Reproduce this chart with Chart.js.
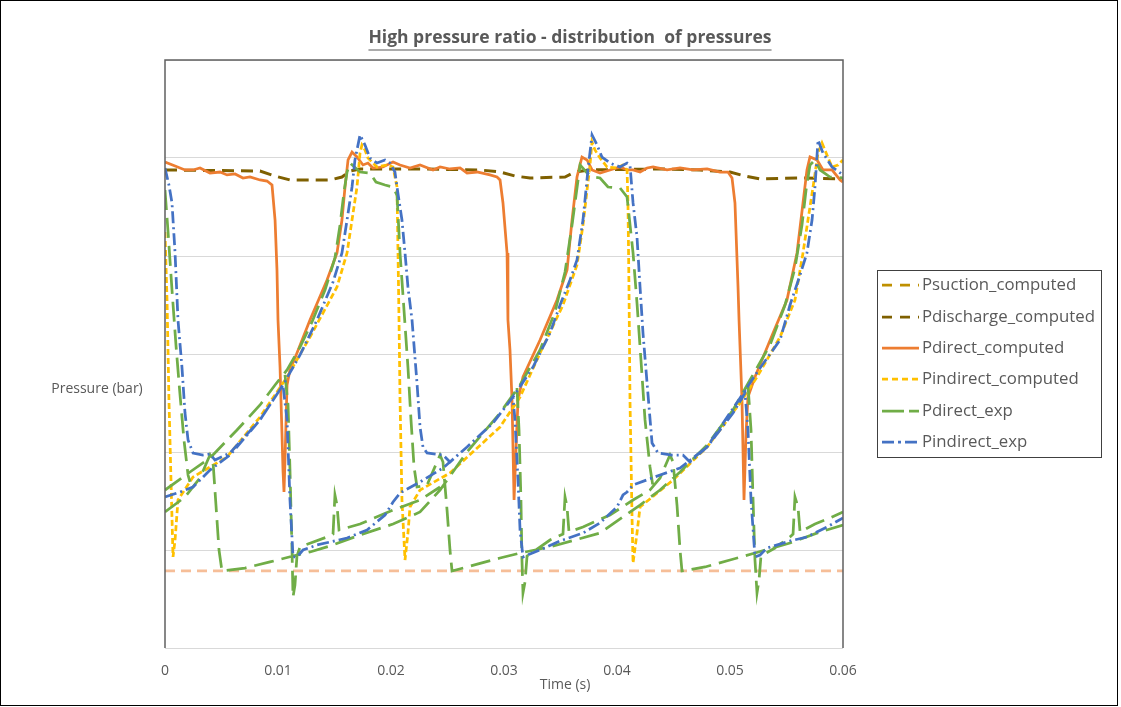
<!DOCTYPE html>
<html>
<head>
<meta charset="utf-8">
<title>High pressure ratio - distribution of pressures</title>
<script src="https://cdn.jsdelivr.net/npm/chart.js@4.4.1/dist/chart.umd.min.js"></script>
<style>
  html, body { margin: 0; padding: 0; background: #fff; }
  canvas { display: block; }
</style>
</head>
<body>
<canvas id="graficaPresiones" width="1121" height="707"></canvas>
<script>
// time in ms (axis shows seconds), pressure in bar
const xTickLabels = ['0', '0.01', '0.02', '0.03', '0.04', '0.05', '0.06'];
const seriesNames = ['Psuction_computed', 'Pdischarge_computed', 'Pdirect_computed', 'Pindirect_computed', 'Pdirect_exp', 'Pindirect_exp'];

const tSuction = [0, 60];
const pSuction = [7.86, 7.86];

const tDischarge = [0, 8.41, 9.73, 11.06, 14.60, 15.66, 16.37, 17.26, 22.57, 27.88, 29.65, 30.97, 32.30, 35.40, 36.28, 37.61, 43.81, 47.35, 50.00, 51.33, 52.65, 56.19, 60.00];
const pDischarge = [48.78, 48.67, 48.16, 47.76, 47.76, 48.06, 48.67, 48.88, 48.88, 48.78, 48.57, 48.16, 47.96, 48.06, 48.57, 48.78, 48.88, 48.78, 48.57, 48.16, 47.86, 47.96, 47.86];

const tDirectComp = [0, 0.89, 1.77, 2.48, 3.10, 3.98, 4.87, 5.49, 6.20, 6.90, 7.52, 8.41, 9.03, 9.47, 9.74, 9.91, 10.00, 10.18, 10.35, 10.44,
  10.53, 10.62, 10.80, 11.06, 11.68, 12.83, 14.34, 15.22, 15.66, 15.93, 16.20, 16.55, 16.99, 17.52, 17.96, 18.41, 19.29, 20.18, 20.80, 21.68,
  22.57, 23.72, 24.34, 25.22, 26.11, 26.73, 27.61, 28.76, 29.38, 29.65, 29.91, 30.27, 30.35, 30.53, 30.71, 30.89, 31.06, 31.24, 31.68, 33.19,
  34.69, 35.58, 36.02, 36.46, 36.90, 37.35, 37.79, 38.50, 39.38, 40.27, 40.89, 41.42, 42.04, 42.66, 43.19, 44.43, 45.58, 46.73, 47.97, 49.12,
  49.82, 50.18, 50.44, 50.71, 50.80, 51.06, 51.24, 51.42, 51.59, 52.21, 53.81, 55.04, 55.93, 56.46, 56.81, 57.08, 57.70, 58.23, 59.03, 59.74, 60.00];
const pDirectComp = [49.59, 49.18, 48.78, 48.78, 48.98, 48.47, 48.57, 48.27, 48.37, 47.96, 48.06, 47.76, 47.65, 47.24, 43.67, 38.57, 33.47, 28.67, 21.94, 18.16,
  15.92, 19.18, 26.84, 28.37, 30.10, 33.47, 37.55, 40.31, 43.67, 47.04, 49.80, 50.61, 50.10, 49.29, 49.49, 48.98, 49.08, 49.59, 49.29, 48.98,
  49.29, 48.78, 49.08, 48.88, 48.98, 48.47, 48.57, 48.27, 48.06, 47.76, 45.41, 40.31, 33.47, 30.41, 25.31, 15.10, 20.20, 25.31, 27.65, 31.43,
  35.51, 38.57, 43.67, 48.06, 50.10, 49.80, 48.78, 48.47, 48.78, 49.08, 48.78, 48.78, 48.57, 48.98, 49.08, 48.78, 48.98, 48.78, 48.88, 48.57,
  48.57, 47.96, 45.41, 36.84, 33.47, 25.31, 15.10, 21.94, 25.61, 27.65, 32.14, 35.51, 40.31, 45.41, 48.78, 50.10, 49.80, 48.78, 48.78, 47.76, 47.55];

const tIndirectComp = [0, 0.18, 0.35, 0.53, 0.71, 0.89, 1.15, 2.48, 5.49, 8.41, 10.80, 12.83, 14.60, 15.22, 16.11, 16.55, 16.99, 17.26, 17.43, 17.70,
  17.96, 18.76, 19.65, 20.18, 20.53, 20.62, 20.71, 20.80, 20.97, 21.24, 21.50, 21.68, 22.57, 25.22, 27.43, 29.65, 31.42, 33.19, 35.22, 36.46,
  36.99, 37.35, 37.61, 37.79, 38.05, 38.50, 39.12, 40.00, 40.53, 40.89, 40.97, 41.06, 41.15, 41.33, 41.42, 41.77, 42.04, 44.96, 47.97, 50.89,
  52.39, 54.43, 55.75, 56.46, 56.90, 57.35, 57.79, 58.14, 58.58, 59.03, 59.56, 60.00];
const pIndirectComp = [42.45, 35.51, 25.31, 17.14, 9.29, 11.02, 15.10, 17.45, 19.49, 23.57, 27.65, 31.73, 35.51, 36.84, 40.31, 43.67, 47.04, 50.51, 51.33, 50.82,
  50.00, 49.08, 49.29, 49.08, 47.04, 40.31, 33.47, 25.31, 15.10, 8.98, 11.73, 14.39, 16.12, 17.86, 20.20, 22.55, 25.61, 30.10, 35.00, 39.08,
  43.16, 46.73, 49.29, 51.63, 50.82, 50.00, 49.08, 48.98, 49.29, 48.78, 45.41, 36.84, 25.31, 13.37, 8.67, 11.73, 14.39, 17.14, 20.51, 25.00,
  27.65, 31.73, 35.51, 40.31, 43.67, 47.04, 50.51, 51.53, 50.31, 49.08, 49.29, 49.80];

// experimental traces overlap themselves, so they are kept as separate strokes
const tDirectExp = [
  [0, 0.27, 0.62, 0.97, 1.33, 1.68, 2.04, 2.21],
  [0, 1.77, 3.10, 3.98, 4.25, 4.51, 4.78, 5.04, 7.08, 9.29, 11.33, 12.83, 14.60, 17.26, 20.18, 22.57, 24.34, 26.73, 29.65, 31.42,
   33.19, 34.51, 35.40, 36.02, 36.46, 36.73, 37.35, 37.88, 38.50, 39.20, 40.27, 40.89, 41.42, 41.77, 42.12, 42.48, 42.92, 43.19],
  [0, 2.21, 3.98, 6.37, 8.41, 9.74, 10.80, 11.95, 13.01, 14.16, 15.04, 15.49, 15.84, 16.11, 16.37, 17.26, 18.14, 18.67, 19.47, 20.18,
   20.53, 20.80, 21.15, 21.50, 21.77, 22.04, 22.30, 23.19, 24.34, 24.60, 24.96, 25.22, 25.40, 26.73, 29.65, 31.42, 34.07, 38.50, 42.04, 43.81,
   45.58, 47.97, 50.27, 51.77, 53.54, 54.87, 55.75, 56.37, 56.73, 57.08, 57.52, 57.97, 58.85, 60.00],
  [10.62, 10.89, 11.06, 11.24, 11.33, 11.50, 11.68, 11.95, 14.34, 14.87, 15.04, 15.22, 15.40, 17.26, 20.18, 22.57, 24.34],
  [31.15, 31.33, 31.50, 31.59, 31.68, 31.86, 32.04, 34.07, 35.22, 35.40, 35.58, 35.75, 36.99, 39.38, 41.42, 42.92, 43.81, 44.69, 44.96, 45.31,
   45.58, 45.75, 47.79, 50.00, 52.21, 55.31, 57.97, 60.00],
  [51.59, 51.86, 52.04, 52.21, 52.39, 52.57, 52.74, 53.98, 55.31, 55.58, 55.75, 56.02, 56.20, 57.52, 58.85, 60.00]
];
const pDirectExp = [
  [46.73, 42.45, 36.53, 30.92, 25.82, 21.22, 17.65, 16.94],
  [13.88, 15.41, 17.35, 19.69, 18.98, 14.59, 10.00, 7.86, 8.16, 8.78, 9.39, 9.80, 10.41, 11.53, 12.65, 13.88, 16.12, 20.00, 23.98, 26.84,
   30.41, 34.29, 38.37, 43.16, 46.94, 49.29, 48.47, 48.06, 47.96, 47.04, 46.94, 46.02, 40.31, 35.20, 29.39, 23.27, 18.47, 16.43],
  [16.12, 17.96, 19.39, 22.24, 24.80, 26.84, 28.37, 30.71, 33.27, 36.53, 39.80, 43.16, 46.53, 48.57, 49.49, 48.57, 48.47, 47.55, 47.24, 47.04,
   46.22, 40.31, 34.49, 28.67, 23.27, 18.47, 16.43, 16.63, 19.69, 18.98, 14.08, 10.00, 7.86, 8.27, 9.18, 9.69, 10.31, 11.73, 14.59, 16.12,
   17.96, 20.71, 24.29, 27.35, 30.92, 35.00, 38.78, 43.16, 46.73, 49.29, 49.80, 48.78, 48.06, 47.96],
  [27.86, 24.80, 18.16, 10.00, 5.20, 6.43, 9.39, 10.31, 11.33, 11.63, 15.61, 14.59, 12.04, 12.65, 14.08, 15.10, 16.43],
  [26.53, 22.24, 15.10, 8.98, 5.61, 6.73, 9.39, 11.02, 11.63, 15.41, 14.39, 11.84, 12.35, 13.57, 15.10, 16.12, 17.35, 19.69, 18.98, 14.59,
   10.00, 7.86, 8.27, 8.98, 9.69, 10.71, 11.84, 12.55],
  [26.84, 22.24, 15.10, 8.98, 5.61, 6.94, 9.39, 10.20, 11.33, 11.63, 15.41, 14.39, 11.84, 12.65, 13.27, 13.88]
];

const tIndirectExp = [
  [0, 0.35, 0.62, 0.89, 1.15, 1.50, 1.77, 2.04, 2.48, 3.36, 3.98, 4.42, 5.75, 8.41, 10.44, 10.80, 11.06, 11.33, 11.68, 12.21,
   13.45, 16.11, 17.88, 19.47, 20.18, 20.80, 22.57, 24.60, 26.73, 29.03, 30.80, 32.57, 34.07, 34.96, 35.84, 36.46, 36.99, 37.43, 37.79, 38.23,
   38.67, 39.38, 40.27, 40.89, 41.15, 41.42, 41.77, 42.04, 42.30, 42.66, 43.10, 43.63, 44.87, 45.84, 46.46, 47.97, 50.27, 51.33, 51.59, 51.86,
   52.21, 52.66, 53.27, 55.31, 56.81, 58.58, 60.00],
  [0, 1.33, 2.48, 3.98, 5.75, 8.41, 10.44, 11.95, 13.45, 14.87, 15.66, 16.11, 16.55, 16.81, 17.26, 17.70, 18.14, 18.76, 19.47, 19.91,
   20.35, 20.53, 20.97, 21.24, 21.50, 21.86, 22.30, 22.57, 22.83, 23.19, 24.60, 25.22, 26.73, 29.03, 30.80, 30.97, 31.24, 31.42, 31.68, 32.30,
   33.19, 34.96, 36.99, 38.50, 40.00, 40.53, 40.89, 41.42, 43.81, 45.58, 47.97, 50.89, 52.66, 54.43, 55.31, 56.20, 56.81, 57.26, 57.52, 57.79,
   58.23, 59.03, 60.00]
];
const pIndirectExp = [
  [48.98, 47.24, 45.41, 40.31, 33.47, 28.67, 23.98, 21.22, 19.90, 19.69, 19.80, 19.18, 19.90, 23.27, 26.84, 23.27, 15.10, 9.29, 9.29, 10.00,
   10.51, 11.22, 12.04, 13.57, 14.90, 15.82, 16.94, 18.37, 20.51, 22.96, 25.61, 28.67, 32.14, 35.00, 37.55, 39.59, 43.67, 48.78, 52.35, 51.33,
   50.10, 49.49, 49.08, 49.49, 49.29, 45.41, 41.94, 36.84, 32.14, 27.04, 20.92, 19.90, 19.69, 19.69, 18.98, 20.51, 23.98, 26.02, 22.24, 15.10,
   9.29, 9.49, 10.20, 10.92, 11.33, 12.35, 13.27],
  [15.41, 15.92, 16.43, 18.16, 19.69, 23.27, 26.84, 29.90, 33.47, 37.35, 40.31, 43.67, 47.04, 49.80, 52.35, 51.33, 50.00, 49.49, 49.80, 49.49,
   48.57, 47.04, 43.67, 40.31, 36.84, 33.47, 27.04, 22.55, 20.51, 19.90, 19.69, 18.98, 20.51, 22.96, 25.61, 23.27, 17.14, 12.04, 9.29, 9.59,
   10.00, 10.92, 11.73, 12.76, 14.39, 15.61, 15.92, 16.63, 17.65, 18.37, 20.51, 25.51, 28.57, 31.43, 35.00, 38.06, 40.31, 43.67, 47.04, 51.84,
   50.51, 49.08, 48.27]
];

function armarPuntos(tiempos, valores) {
  return tiempos.map((t, i) => ({ x: t, y: valores[i] }));
}

function armarTramos(tramosT, tramosP) {
  const puntos = [];
  tramosT.forEach((tt, k) => {
    if (k > 0) puntos.push({ x: tt[0], y: null });
    puntos.push(...armarPuntos(tt, tramosP[k]));
  });
  return puntos;
}

const fuente = "'Open Sans', sans-serif";
const gris = '#595959';

const decoracion = {
  id: 'decoracion',
  afterDraw(chart) {
    const ctx = chart.ctx;
    const a = chart.chartArea;
    ctx.save();

    // plot frame
    ctx.strokeStyle = '#606060';
    ctx.lineWidth = 1.5;
    ctx.beginPath();
    ctx.moveTo(a.left, a.bottom);
    ctx.lineTo(a.left, a.top);
    ctx.lineTo(a.right, a.top);
    ctx.lineTo(a.right, a.bottom);
    ctx.stroke();

    // outer border
    ctx.strokeStyle = '#000';
    ctx.lineWidth = 1;
    ctx.strokeRect(0.5, 0.5, 1117, 705);

    // title, underlined
    ctx.fillStyle = gris;
    ctx.font = 'bold 17.5px ' + fuente;
    ctx.textAlign = 'center';
    ctx.textBaseline = 'middle';
    const titulo = 'High pressure ratio - distribution  of pressures';
    ctx.fillText(titulo, 570, 38);
    const w = ctx.measureText(titulo).width;
    ctx.strokeStyle = gris;
    ctx.lineWidth = 1.2;
    ctx.beginPath();
    ctx.moveTo(570 - w / 2, 50);
    ctx.lineTo(570 + w / 2, 50);
    ctx.stroke();

    // axis titles
    ctx.font = '14px ' + fuente;
    ctx.fillText('Pressure (bar)', 97, 389);
    ctx.fillText('Time (s)', 565, 685);

    // legend
    ctx.strokeStyle = '#404040';
    ctx.lineWidth = 1;
    ctx.strokeRect(877.5, 270.5, 224, 187);
    ctx.font = '16.8px ' + fuente;
    ctx.textAlign = 'left';
    const filas = [285, 317, 348, 379, 411, 442];
    chart.data.datasets.forEach((ds, i) => {
      const y = filas[i];
      ctx.strokeStyle = ds.legendColor || ds.borderColor;
      ctx.lineWidth = 2.75;
      ctx.setLineDash(ds.legendDash || []);
      ctx.beginPath();
      ctx.moveTo(882, y);
      ctx.lineTo(919, y);
      ctx.stroke();
      ctx.setLineDash([]);
      ctx.fillStyle = gris;
      ctx.fillText(ds.label, 922, y);
    });
    ctx.restore();
  }
};

function crearGraficoPresiones() {
  const ctx = document.getElementById('graficaPresiones').getContext('2d');
  return new Chart(ctx, {
    type: 'line',
    data: {
      datasets: [{
        label: seriesNames[0],
        data: armarPuntos(tSuction, pSuction),
        borderColor: 'rgba(237, 125, 49, 0.5)',
        legendColor: '#bf9000',
        borderDash: [10, 6],
        legendDash: [10, 8],
        borderWidth: 2.75,
        order: 6
      }, {
        label: seriesNames[1],
        data: armarPuntos(tDischarge, pDischarge),
        borderColor: '#7f6000',
        borderDash: [12, 7],
        legendDash: [10, 8],
        borderWidth: 3,
        order: 5
      }, {
        label: seriesNames[2],
        data: armarPuntos(tDirectComp, pDirectComp),
        borderColor: '#ed7d31',
        borderWidth: 2.75,
        order: 4
      }, {
        label: seriesNames[3],
        data: armarPuntos(tIndirectComp, pIndirectComp),
        borderColor: '#ffc000',
        borderDash: [6, 3],
        legendDash: [6, 4],
        borderWidth: 2.75,
        order: 3
      }, {
        label: seriesNames[4],
        data: armarTramos(tDirectExp, pDirectExp),
        borderColor: '#70ad47',
        borderDash: [20, 8],
        legendDash: [22, 5, 10, 10],
        borderWidth: 2.75,
        order: 2
      }, {
        label: seriesNames[5],
        data: armarTramos(tIndirectExp, pIndirectExp),
        borderColor: '#4472c4',
        borderDash: [12, 4, 2, 4],
        legendDash: [12, 4, 3, 4],
        borderWidth: 2.75,
        order: 1
      }]
    },
    options: {
      responsive: false,
      animation: false,
      layout: { padding: { left: 165, right: 278, top: 60, bottom: 0 } },
      elements: {
        point: { radius: 0 },
        line: { tension: 0, fill: false }
      },
      plugins: {
        legend: { display: false },
        title: { display: false },
        tooltip: { enabled: false }
      },
      scales: {
        x: {
          type: 'linear',
          min: 0,
          max: 60,
          grid: { display: false },
          border: { display: false },
          ticks: {
            stepSize: 10,
            padding: 7,
            maxRotation: 0,
            autoSkip: false,
            color: gris,
            font: { family: fuente, size: 14 },
            callback: (v, i) => xTickLabels[i]
          },
          afterFit: (s) => { s.height = 59; }
        },
        y: {
          min: 0,
          max: 60,
          grid: { color: '#d9d9d9', drawTicks: false },
          border: { display: false },
          ticks: { display: false, stepSize: 10 },
          afterFit: (s) => { s.width = 0; }
        }
      }
    },
    plugins: [decoracion]
  });
}

crearGraficoPresiones();
</script>
</body>
</html>
